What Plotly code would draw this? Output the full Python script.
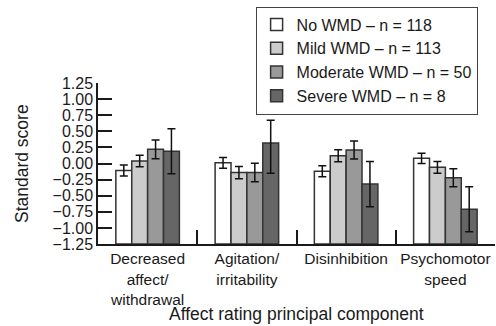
import plotly.graph_objects as go

categories = ["Decreased<br>affect/<br>withdrawal", "Agitation/<br>irritability",
              "Disinhibition", "Psychomotor<br>speed"]
series_names = ["No WMD – n = 118", "Mild WMD – n = 113",
                "Moderate WMD – n = 50", "Severe WMD – n = 8"]
no_wmd = [-0.11, 0.01, -0.12, 0.08]
mild_wmd = [0.04, -0.14, 0.12, -0.06]
moderate_wmd = [0.22, -0.14, 0.21, -0.22]
severe_wmd = [0.19, 0.32, -0.32, -0.71]
err_plus_no = [0.085, 0.085, 0.085, 0.08]
err_plus_mild = [0.09, 0.095, 0.093, 0.09]
err_plus_mod = [0.145, 0.145, 0.14, 0.14]
err_plus_sev = [0.35, 0.35, 0.35, 0.35]
err_minus_sev = [0.35, 0.47, 0.35, 0.35]
y_ticks = [-1.25, -1.0, -0.75, -0.5, -0.25, 0.0, 0.25, 0.5, 0.75, 1.0, 1.25]

BASE = -1.25
colors = ["#ffffff", "#cccccc", "#999999", "#666666"]
series = [no_wmd, mild_wmd, moderate_wmd, severe_wmd]
plus = [err_plus_no, err_plus_mild, err_plus_mod, err_plus_sev]
minus = [err_plus_no, err_plus_mild, err_plus_mod, err_minus_sev]

FONT = "Liberation Sans, Arial, sans-serif"
fig = go.Figure()
for name, vals, col, ep, em in zip(series_names, series, colors, plus, minus):
    fig.add_trace(go.Bar(
        x=categories, y=[v - BASE for v in vals], base=BASE, name=name,
        marker=dict(color=col, line=dict(color="#333333", width=1.5)),
        error_y=dict(type="data", array=ep, arrayminus=em, symmetric=False,
                     color="#111111", thickness=1.5, width=4),
    ))

fig.update_layout(
    width=496, height=326,
    margin=dict(l=98, r=1, t=83, b=82, autoexpand=False),
    paper_bgcolor="white", plot_bgcolor="white",
    barmode="group", bargap=0.36, bargroupgap=0,
    font=dict(family=FONT, size=16, color="#1a1a1a"),
    showlegend=True,
    legend=dict(x=0.397, y=1.475, xanchor="left", yanchor="top",
                bordercolor="#444444", borderwidth=1, bgcolor="white",
                font=dict(size=16), tracegroupgap=0, traceorder="normal",
                itemwidth=30),
    xaxis=dict(
        showline=True, linecolor="#1a1a1a", linewidth=1.5,
        ticks="inside", tickson="boundaries", ticklen=14, tickwidth=1.5,
        tickcolor="#1a1a1a", tickfont=dict(size=15.5), tickangle=0,
        automargin=False, showgrid=False, zeroline=False,
    ),
    yaxis=dict(
        range=[-1.25, 1.25], tickvals=y_ticks, tickformat=".2f",
        showline=True, linecolor="#1a1a1a", linewidth=1.5,
        ticks="inside", ticklen=14, tickwidth=1.5, tickcolor="#1a1a1a",
        tickfont=dict(size=16), automargin=False,
        showgrid=False, zeroline=False,
    ),
    annotations=[
        dict(text="Affect rating principal component", xref="paper", yref="paper",
             x=0.5, y=-0.437, xanchor="center", yanchor="middle",
             showarrow=False, font=dict(size=17.5)),
        dict(text="Standard score", xref="paper", yref="paper", textangle=-90,
             x=-0.1926, y=0.5, xanchor="center", yanchor="middle",
             showarrow=False, font=dict(size=17.5)),
    ],
)
fig.write_html("out.html", config={"displayModeBar": False},
               post_script="document.body.style.margin='0';document.body.style.overflow='hidden';")
